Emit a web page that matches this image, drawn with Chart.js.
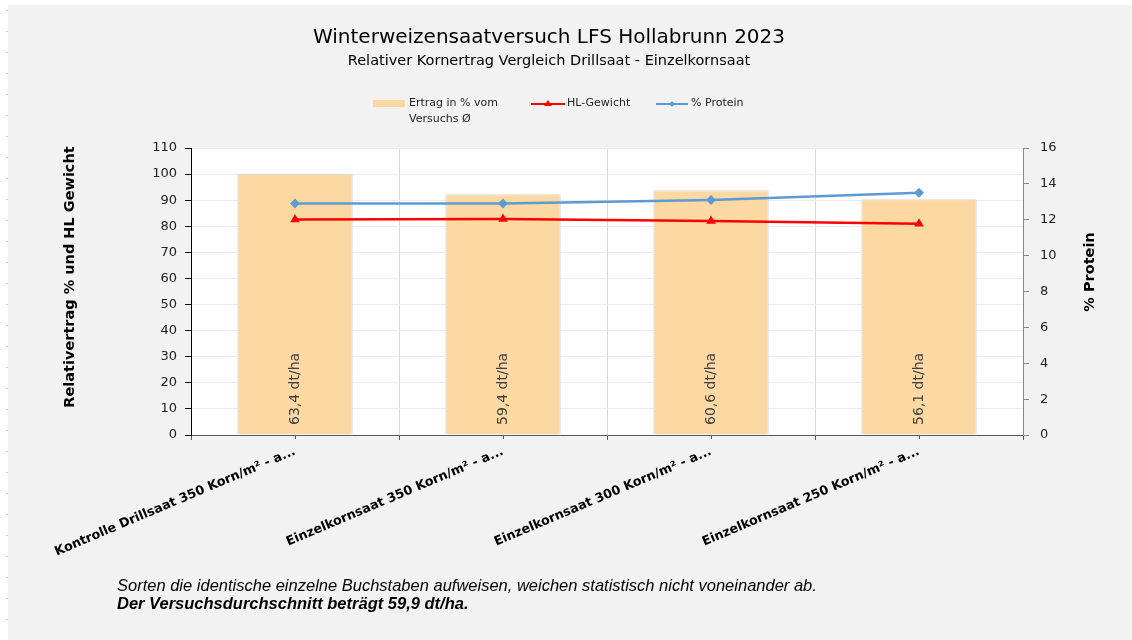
<!DOCTYPE html>
<html><head><meta charset="utf-8">
<script src="https://cdn.jsdelivr.net/npm/chart.js@4/dist/chart.umd.min.js"></script>
<style>
html,body{margin:0;padding:0;background:#fff;}
#wrap{position:relative;width:1132px;height:640px;overflow:hidden;}
#bg{position:absolute;left:8px;top:5px;right:0;bottom:0;background:#f2f2f2;}
#dots{position:absolute;left:6px;top:0;width:2px;height:640px;background-image:radial-gradient(circle,#c8c8c8 0.8px,transparent 1px);background-size:2px 21px;background-position:0 0;}
canvas{position:absolute;left:0;top:0;}
.note{position:absolute;left:117px;font-family:"Liberation Sans",Arial,sans-serif;font-style:italic;font-size:16.5px;color:#000;white-space:nowrap;}
</style></head>
<body><div id="wrap"><div id="bg"></div><div id="dots"></div><canvas id="c" width="1132" height="640"></canvas>
<div class="note" id="n1" style="top:576px">Sorten die identische einzelne Buchstaben aufweisen, weichen statistisch nicht voneinander ab.</div>
<div class="note" id="n2" style="top:594px;font-weight:bold">Der Versuchsdurchschnitt beträgt 59,9 dt/ha.</div>
</div>
<script>
const categories = ["Kontrolle Drillsaat 350 Korn/m² - a...", "Einzelkornsaat 350 Korn/m² - a...", "Einzelkornsaat 300 Korn/m² - a...", "Einzelkornsaat 250 Korn/m² - a..."];
const relYield = [100, 92.3, 93.8, 90.4];
const hlWeight = [82.6, 82.8, 82.0, 81.0];
const protein = [12.9, 12.9, 13.1, 13.5];
const yieldLabels = ["63,4 dt/ha", "59,4 dt/ha", "60,6 dt/ha", "56,1 dt/ha"];
const seriesNames = [["Ertrag in % vom", "Versuchs Ø"], "HL-Gewicht", "% Protein"];
const titleText = "Winterweizensaatversuch LFS Hollabrunn 2023";
const subtitleText = "Relativer Kornertrag Vergleich Drillsaat - Einzelkornsaat";
const leftAxisTitle = "Relativertrag % und HL Gewicht";
const rightAxisTitle = "% Protein";

const FONT = '"DejaVu Sans", Verdana, sans-serif';
const barColor = 'rgba(252,214,158,0.95)';
const red = '#ff0000';
const blue = '#5b9bd5';

const deco = {
  id: 'deco',
  beforeDraw(chart) {
    const {ctx, chartArea: a} = chart;
    ctx.save();
    ctx.fillStyle = '#fff';
    ctx.fillRect(a.left, a.top, a.right - a.left, a.bottom - a.top);
    ctx.restore();
  },
  afterDraw(chart) {
    const {ctx, chartArea: a} = chart;
    const xs = chart.scales.x;
    ctx.save();
    // title
    ctx.fillStyle = '#000';
    ctx.textAlign = 'center';
    ctx.textBaseline = 'middle';
    ctx.font = '20px ' + FONT;
    ctx.fillText(titleText, 549, 38);
    ctx.font = '14.5px ' + FONT;
    ctx.fillText(subtitleText, 549, 61);
    // bar labels
    const meta = chart.getDatasetMeta(0);
    ctx.font = '14px ' + FONT;
    ctx.fillStyle = '#404040';
    meta.data.forEach((el, i) => {
      ctx.save();
      ctx.translate(el.x, a.bottom - 10);
      ctx.rotate(-Math.PI / 2);
      ctx.textAlign = 'left';
      ctx.textBaseline = 'middle';
      ctx.fillText(yieldLabels[i], 0, 0);
      ctx.restore();
    });
    // center ticks on x axis
    ctx.strokeStyle = '#595959';
    ctx.lineWidth = 1;
    categories.forEach((c, i) => {
      const px = Math.round(xs.getPixelForValue(i)) + 0.5;
      ctx.beginPath(); ctx.moveTo(px, a.bottom); ctx.lineTo(px, a.bottom + 4); ctx.stroke();
    });
    // axis titles
    ctx.fillStyle = '#000';
    ctx.font = 'bold 14.5px ' + FONT;
    ctx.textAlign = 'center';
    ctx.textBaseline = 'middle';
    ctx.save();
    ctx.translate(70, 277);
    ctx.rotate(-Math.PI / 2);
    ctx.fillText(leftAxisTitle, 0, 0);
    ctx.restore();
    ctx.save();
    ctx.translate(1090, 272);
    ctx.rotate(-Math.PI / 2);
    ctx.fillText(rightAxisTitle, 0, 0);
    ctx.restore();
    // legend
    const ds = chart.data.datasets;
    ctx.font = '11px ' + FONT;
    ctx.textAlign = 'left';
    ctx.textBaseline = 'middle';
    ctx.fillStyle = ds[0].backgroundColor;
    ctx.fillRect(373, 100, 32, 7);
    ctx.fillStyle = '#222';
    ctx.fillText(seriesNames[0][0], 409, 103);
    ctx.fillText(seriesNames[0][1], 409, 119);
    // red
    ctx.strokeStyle = ds[1].borderColor; ctx.lineWidth = 2;
    ctx.beginPath(); ctx.moveTo(531, 104); ctx.lineTo(565, 104); ctx.stroke();
    ctx.fillStyle = ds[1].borderColor;
    ctx.beginPath(); ctx.moveTo(548, 100); ctx.lineTo(552, 106); ctx.lineTo(544, 106); ctx.closePath(); ctx.fill();
    ctx.fillStyle = '#222';
    ctx.fillText(seriesNames[1], 567, 103);
    // blue
    ctx.strokeStyle = ds[2].borderColor; ctx.lineWidth = 2;
    ctx.beginPath(); ctx.moveTo(656, 104); ctx.lineTo(688, 104); ctx.stroke();
    ctx.fillStyle = ds[2].borderColor;
    ctx.beginPath(); ctx.moveTo(672, 101); ctx.lineTo(675, 104); ctx.lineTo(672, 107); ctx.lineTo(669, 104); ctx.closePath(); ctx.fill();
    ctx.fillStyle = '#222';
    ctx.fillText(seriesNames[2], 691, 103);
    ctx.restore();
  }
};

new Chart(document.getElementById('c'), {
  data: {
    labels: categories,
    datasets: [
      { type: 'bar', label: seriesNames[0].join(' '), data: relYield, yAxisID: 'y', order: 2,
        backgroundColor: barColor, borderColor: '#d9d9d9', borderWidth: 1,
        barPercentage: 0.555, categoryPercentage: 1 },
      { type: 'line', label: seriesNames[1], data: hlWeight, yAxisID: 'y', order: 1,
        borderColor: red, backgroundColor: red, borderWidth: 2.5, tension: 0,
        pointStyle: 'triangle', pointRadius: 5.5, pointBorderWidth: 0 },
      { type: 'line', label: seriesNames[2], data: protein, yAxisID: 'y1', order: 0,
        borderColor: blue, backgroundColor: blue, borderWidth: 2.5, tension: 0,
        pointStyle: 'rectRot', pointRadius: 5, pointBorderWidth: 0 }
    ]
  },
  options: {
    responsive: false,
    animation: false,
    layout: { padding: { top: 148, left: 0, right: 0, bottom: 0 } },
    plugins: { legend: { display: false }, title: { display: false }, tooltip: { enabled: false } },
    scales: {
      x: {
        offset: true,
        grid: { offset: true, color: '#d9d9d9', tickColor: '#595959', tickLength: 5 },
        border: { color: '#595959', width: 1 },
        ticks: { autoSkip: false, minRotation: 23, maxRotation: 23, padding: 4, color: '#000',
                 font: { family: FONT, size: 12.7, weight: 'bold' } },
        afterFit(s) { s.height = 205; }
      },
      y: {
        position: 'left', min: 0, max: 110,
        ticks: { stepSize: 10, padding: 8, color: '#222', font: { family: FONT, size: 13 } },
        grid: { color: '#ebebeb', tickColor: '#000', tickLength: 6 },
        border: { color: '#000', width: 1 },
        afterFit(s) { s.width = 191; }
      },
      y1: {
        position: 'right', min: 0, max: 16,
        ticks: { stepSize: 2, padding: 11, color: '#222', font: { family: FONT, size: 13 } },
        grid: { drawOnChartArea: false, tickColor: '#888', tickLength: 6 },
        border: { color: '#888', width: 1 },
        afterFit(s) { s.width = 109; }
      }
    }
  },
  plugins: [deco]
});
</script>
</body></html>
